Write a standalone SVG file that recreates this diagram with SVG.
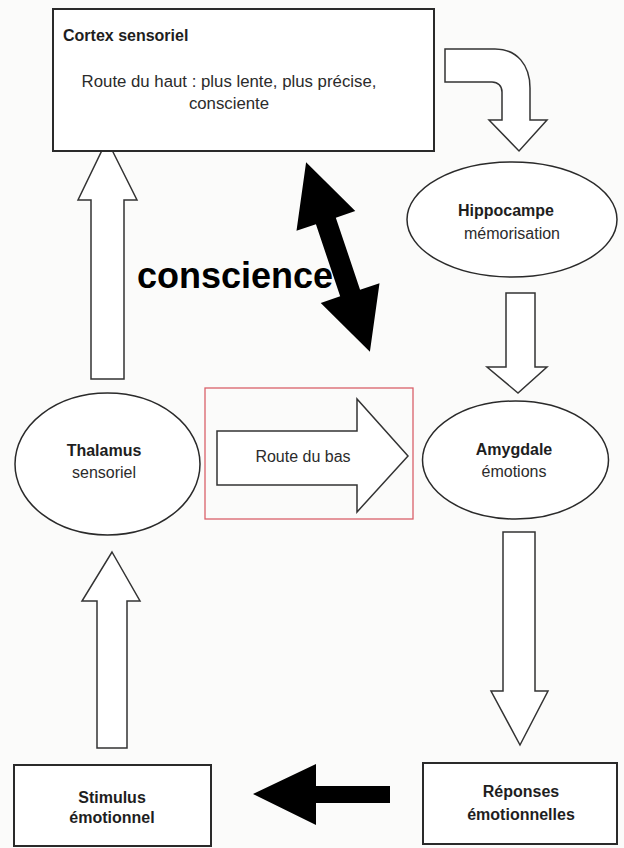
<svg xmlns="http://www.w3.org/2000/svg" width="624" height="848" viewBox="0 0 624 848">
  <style>
    .box { fill: #ffffff; stroke: #2a2a2a; stroke-width: 2; }
    .ell { fill: #ffffff; stroke: #2a2a2a; stroke-width: 1.5; }
    .hollow { fill: #ffffff; stroke: #333333; stroke-width: 1.5; stroke-linejoin: miter; }
    .solid { fill: #000000; stroke: none; }
    .t { font-family: "Liberation Sans", Arial, sans-serif; font-size: 16px; fill: #2b2b2b; }
    .b { font-weight: bold; fill: #1e1e1e; }
    .c { text-anchor: middle; }
    .big { font-size: 16.8px; }
  </style>
  <rect x="0" y="0" width="624" height="848" fill="#fbfbfa"/>

  <g id="connectors">
    <!-- curved arrow cortex -> hippocampe -->
    <path class="hollow" d="M445,49 L495,49 C517,49 530,65 530,88 L530,120 L547,120 L519,151 L489,120 L502,120 L502,92 C502,86 498,82 492,82 L445,82 Z"/>
    <!-- thalamus -> cortex -->
    <path class="hollow" d="M107,140 L137,200 L124,200 L124,379 L91,379 L91,200 L78,200 Z"/>
    <!-- hippocampe -> amygdale -->
    <path class="hollow" d="M506,293 L535,293 L535,367 L547,367 L518,393 L487,367 L506,367 Z"/>
    <!-- amygdale -> reponses -->
    <path class="hollow" d="M503,532 L535,532 L535,691 L548,691 L520,745 L491,691 L503,691 Z"/>
    <!-- stimulus -> thalamus -->
    <path class="hollow" d="M112,552 L140,601 L127,601 L127,748 L97,748 L97,601 L82,601 Z"/>
    <!-- reponses -> stimulus (black) -->
    <path class="solid" d="M253,794 L316,764 L316,786 L390,786 L390,803 L316,803 L316,825 Z"/>
    <!-- conscience double arrow (black) -->
    <path class="solid" transform="translate(338,257) rotate(-18.6)" d="M0,-100 L31,-38 L10.5,-38 L10.5,38 L31,38 L0,100 L-31,38 L-10.5,38 L-10.5,-38 L-31,-38 Z"/>
  </g>

  <g id="cortex">
    <rect class="box" x="53" y="9" width="381" height="142"/>
    <text class="t b" x="63" y="41">Cortex sensoriel</text>
    <text class="t c big" x="229" y="87">Route du haut : plus lente, plus précise,</text>
    <text class="t c big" x="229" y="109">consciente</text>
  </g>

  <g id="hippocampe">
    <ellipse class="ell" cx="512" cy="219.5" rx="105" ry="57.5"/>
    <text class="t b c" x="506" y="216">Hippocampe</text>
    <text class="t c" x="512" y="239">mémorisation</text>
  </g>

  <text id="conscience" x="137" y="288" font-family="'Liberation Sans', Arial, sans-serif" font-weight="bold" font-size="36" fill="#000000">conscience</text>

  <g id="thalamus">
    <ellipse class="ell" cx="107.5" cy="464" rx="92.5" ry="71"/>
    <text class="t b c" x="104" y="456">Thalamus</text>
    <text class="t c" x="104" y="478">sensoriel</text>
  </g>

  <g id="route-du-bas">
    <rect x="205" y="388" width="208" height="131" fill="none" stroke="#d9606a" stroke-width="1.3"/>
    <path class="hollow" d="M217,431 L357,431 L357,399 L408,456 L357,512 L357,485 L217,485 Z"/>
    <text class="t c" x="303" y="462">Route du bas</text>
  </g>

  <g id="amygdale">
    <ellipse class="ell" cx="515.5" cy="460" rx="93" ry="59"/>
    <text class="t b c" x="514" y="455">Amygdale</text>
    <text class="t c" x="514" y="477">émotions</text>
  </g>

  <g id="stimulus">
    <rect class="box" x="14" y="765" width="197" height="81"/>
    <text class="t b c" x="112" y="803">Stimulus</text>
    <text class="t b c" x="112" y="823">émotionnel</text>
  </g>

  <g id="reponses">
    <rect class="box" x="423" y="763" width="194" height="81"/>
    <text class="t b c" x="521" y="797">Réponses</text>
    <text class="t b c" x="521" y="820">émotionnelles</text>
  </g>
</svg>
